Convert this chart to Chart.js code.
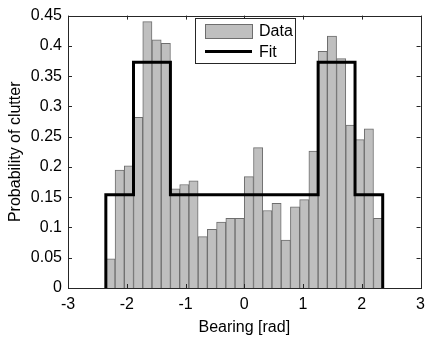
<!DOCTYPE html>
<html>
<head>
<meta charset="utf-8">
<script src="https://cdn.jsdelivr.net/npm/chart.js@4"></script>
<style>
  html, body { margin: 0; padding: 0; background: #fff; }
  #wrap { width: 432px; height: 340px; }
</style>
</head>
<body>
<div id="wrap"><canvas id="histchart"></canvas></div>
<script>
// histogram: 30 bins spanning -3pi/4 .. 3pi/4
const binLo = -2.356;
const binHi = 2.356;
const clutterProb = [0.048, 0.195, 0.202, 0.282, 0.440, 0.410, 0.404, 0.164, 0.171, 0.177,
                     0.085, 0.097, 0.109, 0.115, 0.115, 0.184, 0.232, 0.128, 0.140, 0.079,
                     0.134, 0.146, 0.226, 0.391, 0.416, 0.379, 0.269, 0.245, 0.263, 0.115];
// fitted step function: edges and level between consecutive edges
const fitEdges = [-2.356, -1.885, -1.257, 1.257, 1.885, 2.356];
const fitLevels = [0.154, 0.373, 0.154, 0.373, 0.154];
const xTicks = [-3, -2, -1, 0, 1, 2, 3];
const yTicks = [0, 0.05, 0.1, 0.15, 0.2, 0.25, 0.3, 0.35, 0.4, 0.45];

const binW = (binHi - binLo) / clutterProb.length;
const barPts = clutterProb.map((v, i) => ({ x: binLo + binW * (i + 0.5), y: v }));

const fitPts = [{ x: fitEdges[0], y: 0 }];
fitLevels.forEach((lv, i) => {
    fitPts.push({ x: fitEdges[i], y: lv });
    fitPts.push({ x: fitEdges[i + 1], y: lv });
});
fitPts.push({ x: fitEdges[fitEdges.length - 1], y: 0 });

const FONT = 'Liberation Sans, Arial, sans-serif';

// box around the axes with inward ticks on all four sides
const boxTicks = {
    id: 'boxTicks',
    afterDatasetsDraw(chart) {
        const { ctx, chartArea: a, scales } = chart;
        ctx.save();
        ctx.strokeStyle = '#262626';
        ctx.lineWidth = 1;
        ctx.beginPath();
        xTicks.forEach(t => {
            const px = Math.round(scales.x.getPixelForValue(t)) + 0.5;
            ctx.moveTo(px, a.bottom); ctx.lineTo(px, a.bottom - 4);
            ctx.moveTo(px, a.top); ctx.lineTo(px, a.top + 4);
        });
        yTicks.forEach(t => {
            const py = Math.round(scales.y.getPixelForValue(t)) + 0.5;
            ctx.moveTo(a.left, py); ctx.lineTo(a.left + 4, py);
            ctx.moveTo(a.right, py); ctx.lineTo(a.right - 4, py);
        });
        ctx.stroke();
        ctx.strokeRect(Math.round(a.left) + 0.5, Math.round(a.top) + 0.5,
                       Math.round(a.right - a.left), Math.round(a.bottom - a.top));
        ctx.restore();
    }
};

// matlab-like legend box inside the axes
const boxLegend = {
    id: 'boxLegend',
    afterDraw(chart) {
        const { ctx } = chart;
        const ds = chart.data.datasets;
        const x0 = 195.5, y0 = 18.5, w = 100, h = 45;
        ctx.save();
        ctx.fillStyle = '#fff';
        ctx.fillRect(x0, y0, w, h);
        ctx.strokeStyle = '#262626';
        ctx.lineWidth = 1;
        ctx.strokeRect(x0, y0, w, h);
        ctx.fillStyle = ds[0].backgroundColor;
        ctx.fillRect(205, 24, 48, 15);
        ctx.strokeStyle = ds[0].borderColor;
        ctx.strokeRect(205.5, 24.5, 47, 14);
        ctx.strokeStyle = ds[1].borderColor;
        ctx.lineWidth = ds[1].borderWidth;
        ctx.beginPath();
        ctx.moveTo(205, 51.5); ctx.lineTo(252, 51.5);
        ctx.stroke();
        ctx.fillStyle = '#000';
        ctx.font = '16px ' + FONT;
        ctx.textBaseline = 'middle';
        ctx.fillText(ds[0].label, 259, 32);
        ctx.fillText(ds[1].label, 259, 53);
        ctx.restore();
    }
};

const ctx = document.getElementById('histchart').getContext('2d');
const histchart = new Chart(ctx, {
    type: 'bar',
    data: {
        datasets: [{
            label: 'Data',
            data: barPts,
            backgroundColor: '#bfbfbf',
            borderColor: '#6e6e6e',
            borderWidth: 1,
            barPercentage: 1,
            categoryPercentage: 1,
            order: 2
        },
        {
            type: 'line',
            label: 'Fit',
            data: fitPts,
            borderColor: '#000',
            borderWidth: 3,
            pointRadius: 0,
            fill: false,
            order: 1
        }]
    },
    options: {
        responsive: true,
        maintainAspectRatio: false,
        animation: false,
        layout: { padding: { top: 11, right: 11, left: 0, bottom: 0 } },
        plugins: {
            legend: { display: false },
            tooltip: { enabled: false }
        },
        scales: {
            x: {
                type: 'linear',
                offset: false,
                min: -3,
                max: 3,
                afterFit: s => { s.height = 52; },
                afterBuildTicks: s => { s.ticks = xTicks.map(v => ({ value: v })); },
                grid: { display: false, drawTicks: false, offset: false },
                border: { display: false },
                ticks: {
                    padding: 7,
                    color: '#000',
                    font: { family: FONT, size: 16 },
                    callback: v => String(v)
                },
                title: {
                    display: true,
                    text: 'Bearing [rad]',
                    color: '#000',
                    font: { family: FONT, size: 16 },
                    padding: { top: 0, bottom: 3 }
                }
            },
            y: {
                min: 0,
                max: 0.45,
                afterFit: s => { s.width = 68; },
                afterBuildTicks: s => { s.ticks = yTicks.map(v => ({ value: v })); },
                grid: { display: false, drawTicks: false },
                border: { display: false },
                ticks: {
                    padding: 6,
                    color: '#000',
                    font: { family: FONT, size: 16 },
                    callback: v => String(+v.toFixed(2))
                },
                title: {
                    display: true,
                    text: 'Probability of clutter',
                    color: '#000',
                    font: { family: FONT, size: 16 },
                    padding: { top: 6, bottom: 2 }
                }
            }
        }
    },
    plugins: [boxTicks, boxLegend]
});
</script>
</body>
</html>
